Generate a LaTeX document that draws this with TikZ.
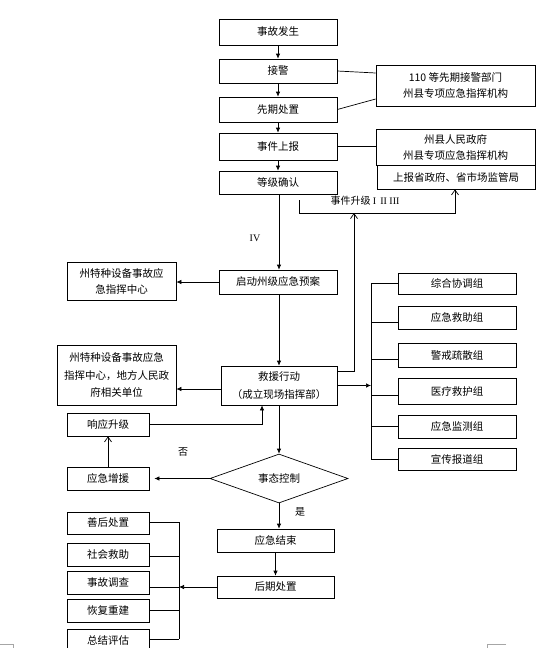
\documentclass[tikz,border=0pt]{standalone}
\usepackage{fontspec}
\setmainfont{Noto Sans CJK SC}
\newfontfamily\latinser{Liberation Serif}
\usetikzlibrary{shapes.geometric,arrows.meta}
\begin{document}
\begin{tikzpicture}[x=1pt,y=-1pt,
  ln/.style={line width=0.7pt},
  box/.style={draw, ln, inner sep=0pt, align=center, font=\fontsize{10.5pt}{16pt}\selectfont},
  lbl/.style={inner sep=0pt, font=\fontsize{10pt}{12pt}\selectfont},
  arr/.style={ln, -{Latex[length=5pt,width=4.5pt]}},
  oarr/.style={ln, -{Straight Barb[length=5pt,width=7pt]}},
  cornermark/.style={draw=black!35, line width=0.6pt}
]
\fill[white] (0,0) rectangle (544,648);
\useasboundingbox (0,0) rectangle (544,648);
\clip (0,0) rectangle (544,648);

% main column top
\node[box, minimum width=118pt, minimum height=26pt] (fs) at (278,32) {事故发生};
\node[box, minimum width=118pt, minimum height=24pt] (jj) at (278,71) {接警};
\node[box, minimum width=118pt, minimum height=25pt] (xq) at (278,109.5) {先期处置};
\node[box, minimum width=118pt, minimum height=27pt] (sb) at (278,146.5) {事件上报};
\node[box, minimum width=118pt, minimum height=23pt] (dj) at (278,182.5) {等级确认};

% right boxes top
\node[box, minimum width=159pt, minimum height=41pt] (r1) at (455.5,85.5) {110 等先期接警部门\\州县专项应急指挥机构};
\node[box, minimum width=159pt, minimum height=36pt] (r2) at (455.5,147) {州县人民政府\\州县专项应急指挥机构};
\node[box, minimum width=158pt, minimum height=24pt] (r3) at (456,177) {上报省政府、省市场监管局};

\draw[arr] (fs) -- (jj);
\draw[arr] (jj) -- (xq);
\draw[arr] (xq) -- (sb);
\draw[arr] (sb) -- (dj);
\draw[ln] (jj.east) -- ([yshift=12.5pt]r1.west);
\draw[ln] (xq.east) -- ([yshift=-13.5pt]r1.west);
\draw[ln] (sb.east) -- (sb.east -| r2.west);

% launch plan
\node[box, minimum width=118pt, minimum height=24pt] (qd) at (278,282) {启动州级应急预案};
\node[lbl, font=\latinser\fontsize{10pt}{12pt}\selectfont] (iv) at (255,238) {IV};
\draw[arr] ([xshift=1pt]dj.south) -- ([xshift=1pt]qd.north);

% upgrade path
\coordinate (u1) at (299,200);
\coordinate (u3) at (455,213);
\coordinate (u4) at (354,213);
\draw[oarr] (u1) |- (u3) -- (r3.south -| u3);
\node[lbl] (sj) at (365,201) {事件升级 {\latinser I\, II III}};

% rescue
\node[box, minimum width=116pt, minimum height=39pt, font=\fontsize{10.5pt}{18pt}\selectfont] (jy) at (279,385.5) {救援行动\\（成立现场指挥部）};
\draw[arr] (qd.south -| jy.north) -- (jy.north);
\draw[oarr] ([yshift=14.5pt]jy.east) -| (u4);

% left boxes
\node[box, minimum width=109pt, minimum height=38pt] (l1) at (121.5,281) {州特种设备事故应\\急指挥中心};
\draw[arr] (qd.west) -- (qd.west -| l1.east);
\node[box, minimum width=119pt, minimum height=60pt, font=\fontsize{10.5pt}{17.5pt}\selectfont] (l2) at (116.5,375) {州特种设备事故应急\\指挥中心，地方人民政\\府相关单位};
\draw[arr] ([yshift=-3.5pt]jy.west) -- ([yshift=-3.5pt]jy.west -| l2.east);

% groups
\coordinate (gb1) at (371,284);
\coordinate (gb2) at (371,459);
\node[box, minimum width=118pt, minimum height=21pt] (g1) at (457,283.5) {综合协调组};
\node[box, minimum width=118pt, minimum height=23pt] (g2) at (457,317.5) {应急救助组};
\node[box, minimum width=118pt, minimum height=24pt] (g3) at (457,355) {警戒疏散组};
\node[box, minimum width=118pt, minimum height=26pt] (g4) at (457,391.5) {医疗救护组};
\node[box, minimum width=118pt, minimum height=23pt] (g5) at (457,426.5) {应急监测组};
\node[box, minimum width=118pt, minimum height=22pt] (g6) at (457,459) {宣传报道组};
\draw[ln] (gb1) -- (gb2);
\draw[ln] (g1.west) -- (g1.west -| gb1);
\draw[ln] ([yshift=-4.5pt]g2.west) -- ([yshift=-4.5pt]g2.west -| gb1);
\draw[ln] ([yshift=-4pt]g3.west) -- ([yshift=-4pt]g3.west -| gb1);
\draw[ln] ([yshift=-3.5pt]g4.west) -- ([yshift=-3.5pt]g4.west -| gb1);
\draw[ln] (g5.west) -- (g5.west -| gb1);
\draw[ln] (g6.west) -- (g6.west -| gb1);
\draw[arr] (jy.east) -- (jy.east -| gb1);

% control loop
\node[box, minimum width=82pt, minimum height=23pt] (xy) at (108,424.5) {响应升级};
\node[box, minimum width=82pt, minimum height=23pt] (zy) at (108,478.5) {应急增援};
\node[draw, ln, diamond, aspect=2.8, inner sep=0pt, minimum width=138pt, minimum height=49pt, font=\fontsize{10.5pt}{16pt}\selectfont] (dm) at (279,478.5) {事态控制};
\draw[arr] (jy.south) -- (dm.north);
\draw[arr] (xy.east) -| ([xshift=-17pt]jy.south);
\draw[arr, shorten >=5pt] (dm.west) -- (dm.west -| zy.east);
\draw[oarr] (zy) -- (xy);
\node[lbl] (no) at (183,452) {否};
\node[lbl] (yes) at (300,512) {是};

% end
\node[box, minimum width=117pt, minimum height=23pt] (js) at (275.5,540.5) {应急结束};
\node[box, minimum width=117pt, minimum height=22pt] (hq) at (275.5,587) {后期处置};
\draw[arr] (dm.south) -- (dm.south |- js.north);
\draw[arr] (js) -- (hq);

% aftermath
\coordinate (lb1) at (179,522);
\coordinate (lb2) at (179,639);
\node[box, minimum width=82pt, minimum height=22pt] (s1) at (108,523) {善后处置};
\node[box, minimum width=82pt, minimum height=23pt] (s2) at (108,554.5) {社会救助};
\node[box, minimum width=82pt, minimum height=23pt] (s3) at (108,582.5) {事故调查};
\node[box, minimum width=82pt, minimum height=23pt] (s4) at (108,610.5) {恢复重建};
\node[box, minimum width=82pt, minimum height=23pt] (s5) at (108,640.5) {总结评估};
\draw[ln] (lb1) -- (lb2);
\draw[ln] ([yshift=1pt]s1.east) -- ([yshift=1pt]s1.east -| lb1);
\draw[ln] ([yshift=-1.5pt]s2.east) -- ([yshift=-1.5pt]s2.east -| lb1);
\draw[ln] ([yshift=-4.5pt]s3.east) -- ([yshift=-4.5pt]s3.east -| lb1);
\draw[ln] (s4.east) -- (s4.east -| lb1);
\draw[ln] ([yshift=1.5pt]s5.east) -- ([yshift=1.5pt]s5.east -| lb1);
\draw[arr] (hq.west) -- (hq.west -| lb1);

% page corner marks
\draw[cornermark] (0,644) -- (13,644) -- (13,648);
\draw[cornermark] (506,644) -- (487,644) -- (487,648);
\end{tikzpicture}
\end{document}
